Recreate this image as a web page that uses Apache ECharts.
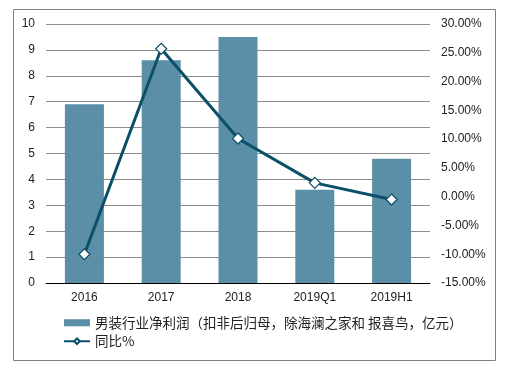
<!DOCTYPE html>
<html><head><meta charset="utf-8">
<script src="https://cdn.jsdelivr.net/npm/echarts@6/dist/echarts.min.js"></script>
<style>html,body{margin:0;padding:0;background:#fff}#c{width:515px;height:365px}</style>
</head><body><div id="c"></div>
<script>
var categories = ['2016', '2017', '2018', '2019Q1', '2019H1'];
var profitValues = [6.9, 8.6, 9.5, 3.6, 4.8];
var yoyValues = [-10.0, 25.7, 10.1, 2.4, -0.5];
var barName = '男装行业净利润（扣非后归母，除海澜之家和 报喜鸟，亿元）';
var lineName = '同比%';

var chart = echarts.init(document.getElementById('c'));
var font = 'Liberation Sans, Arial, sans-serif';
chart.setOption({
  animation: false,
  textStyle: { fontFamily: font },
  graphic: [{
    type: 'rect', shape: { x: 13.5, y: 9.5, width: 482, height: 351 },
    style: { fill: 'none', stroke: '#808080', lineWidth: 1 }, silent: true
  }],
  grid: { left: 46, right: 85, top: 24, bottom: 82 },
  legend: {
    orient: 'vertical', left: 58, top: 311, itemGap: 5,
    itemWidth: 26, itemHeight: 7,
    textStyle: { fontFamily: 'Noto Sans CJK SC, sans-serif', fontSize: 13.5, color: '#222' },
    data: [
      { name: barName, icon: 'rect' },
      { name: lineName }
    ]
  },
  xAxis: {
    type: 'category', data: categories,
    axisLine: { lineStyle: { color: '#000', width: 1 } },
    axisTick: { show: false },
    axisLabel: { color: '#222', fontSize: 12, margin: 9, fontFamily: font }
  },
  yAxis: [{
    type: 'value', min: 0, max: 10, interval: 1,
    axisLine: { show: false }, axisTick: { show: false },
    axisLabel: { color: '#222', fontSize: 12, margin: 11, fontFamily: font },
    splitLine: { lineStyle: { color: '#8c8c8c', width: 1 } }
  }, {
    type: 'value', min: -15, max: 30, interval: 5,
    axisLine: { show: false }, axisTick: { show: false },
    axisLabel: { color: '#222', fontSize: 12, margin: 11, fontFamily: font,
      formatter: function (v) { return v.toFixed(2) + '%'; } },
    splitLine: { show: false }
  }],
  series: [{
    name: barName, type: 'bar', data: profitValues, yAxisIndex: 0,
    barWidth: 39, itemStyle: { color: '#5b8fa7' }
  }, {
    name: lineName, type: 'line', data: yoyValues, yAxisIndex: 1,
    symbol: 'diamond', symbolSize: 11,
    lineStyle: { color: '#0b5068', width: 3 },
    itemStyle: { color: '#fff', borderColor: '#0b5068', borderWidth: 1.2 },
    z: 5
  }]
});
</script></body></html>
